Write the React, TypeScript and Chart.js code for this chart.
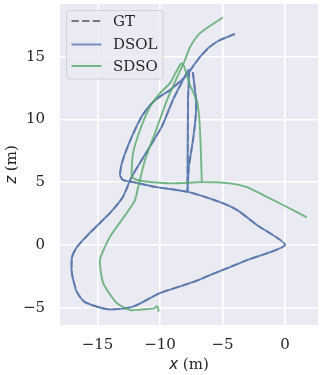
import React, { useEffect, useRef } from "react";
import { Chart, registerables } from "chart.js";

Chart.register(...registerables);

// ---- data (metres) ----
const gtX = [-4.0, -5.2, -6.0, -6.8, -7.36, -7.86, -8.4, -9.2, -10.0, -10.8, -11.46, -12.26, -12.96, -13.2, -12.96, -12.26, -10.4, -7.76, -5.2, -3.84, -2.24, 0, -3.0, -6.0, -7.36, -10.0, -11.84, -12.64, -14.24, -16.0, -16.64, -17.04, -17.04, -16.64, -15.6, -14.0, -12.96, -12.26, -10.96, -9.86, -8.96, -8.24, -7.68, -7.76, -7.76, -7.8, -7.68, -7.36, -7.12, -7.12, -7.36];
const gtY = [16.8, 16.32, 15.79, 14.99, 14.2, 13.54, 13.0, 12.34, 11.81, 11.15, 10.21, 8.62, 6.77, 5.57, 5.18, 5.04, 4.64, 4.24, 3.42, 2.79, 1.59, 0, -1.18, -2.39, -2.95, -3.82, -4.78, -5.02, -5.1, -4.54, -3.74, -2.23, -0.96, -0.16, 0.96, 2.55, 3.82, 5.44, 7.56, 9.42, 11.54, 12.98, 13.93, 11.54, 8.36, 4.3, 6.21, 8.36, 10.35, 11.54, 13.77];

const dsolX = [-4.02, -5.2, -6.02, -6.8, -7.38, -7.86, -8.42, -9.2, -10.02, -10.8, -11.48, -12.26, -12.98, -13.2, -12.96, -12.24, -10.4, -7.76, -5.2, -3.82, -2.22, 0, -3.0, -6.0, -7.38, -10.0, -11.86, -12.64, -14.26, -16.02, -16.66, -17.06, -17.04, -16.64, -15.62, -14.0, -12.98, -12.26, -10.98, -9.86, -8.98, -8.24, -7.7, -7.76, -7.78, -7.8, -7.7, -7.36, -7.14, -7.12, -7.38];
const dsolY = [16.82, 16.33, 15.8, 14.99, 14.22, 13.54, 13.02, 12.34, 11.83, 11.15, 10.22, 8.62, 6.78, 5.57, 5.17, 5.03, 4.63, 4.23, 3.41, 2.78, 1.58, 0, -1.19, -2.4, -2.96, -3.83, -4.79, -5.03, -5.11, -4.55, -3.74, -2.23, -0.95, -0.15, 0.97, 2.56, 3.83, 5.45, 7.57, 9.43, 11.55, 12.99, 13.94, 11.54, 8.36, 4.3, 6.22, 8.37, 10.36, 11.55, 13.78];

// SDSO drawn as two pieces (the estimate jumps between them)
const sdsoAX = [-10.1, -10.22, -10.5, -11.6, -12.4, -13.46, -14.54, -14.8, -14.0, -12.66, -12.0, -11.74, -11.2, -10.4, -9.44, -8.56, -8.0, -7.6, -6.8, -4.98];
const sdsoAY = [-5.32, -4.88, -5.05, -5.15, -5.18, -4.62, -3.03, -1.19, 0.66, 2.55, 3.58, 4.64, 6.77, 8.92, 11.54, 13.54, 14.73, 15.76, 16.88, 18.13];
const sdsoBX = [1.74, 0.16, -1.74, -3.04, -4.4, -6.64, -9.04, -10.8, -11.84, -12.24, -12.26, -12.16, -11.6, -10.8, -10.0, -9.2, -8.64, -8.3, -8.08, -7.6, -7.06, -6.88, -6.8, -6.72, -6.66];
const sdsoBY = [2.21, 3.03, 3.98, 4.62, 4.91, 5.02, 4.91, 5.02, 5.18, 5.44, 5.97, 7.32, 9.16, 11.01, 12.1, 12.9, 13.93, 14.47, 14.25, 12.74, 11.54, 10.35, 9.16, 7.17, 5.02];

const xTicks = [-15, -10, -5, 0];
const yTicks = [-5, 0, 5, 10, 15];
const xRange = [-18.0, 2.64];
const yRange = [-6.37, 19.2];
const legendLabels = ["GT", "DSOL", "SDSO"];

const BLUE = "rgba(76,114,176,0.85)";
const GREEN = "rgba(85,168,104,0.8)";
const GRAY_LINE = "rgba(90,90,90,0.55)";
const GRAY_LEGEND = "rgba(80,80,80,0.75)";
const SERIF = '"DejaVu Serif", serif';
const FS = 15;

const pts = (xs: number[], ys: number[]) => xs.map((x, i) => ({ x, y: ys[i] }));
const fmt = (v: number) => (v < 0 ? "\u2212" + Math.abs(v) : String(v));

const decorPlugin = {
  id: "decor",
  beforeDraw(chart: any) {
    const { ctx, chartArea: a } = chart;
    ctx.save();
    ctx.fillStyle = "#ffffff";
    ctx.fillRect(0, 0, chart.width, chart.height);
    ctx.fillStyle = "#eaeaf2";
    ctx.fillRect(a.left, a.top, a.right - a.left, a.bottom - a.top);
    ctx.restore();
  },
  afterDraw(chart: any) {
    const { ctx, chartArea: a } = chart;
    ctx.save();
    // axis titles
    const drawTitle = (v: string, cx: number, cy: number, rot: number) => {
      ctx.save();
      ctx.translate(cx, cy);
      ctx.rotate(rot);
      ctx.textBaseline = "middle";
      ctx.fillStyle = "#262626";
      ctx.font = `italic ${FS}px "DejaVu Sans", sans-serif`;
      const w1 = ctx.measureText(v).width;
      ctx.font = `${FS}px ${SERIF}`;
      const rest = " (m)";
      const w2 = ctx.measureText(rest).width;
      const x0 = -(w1 + w2) / 2;
      ctx.font = `italic ${FS}px "DejaVu Sans", sans-serif`;
      ctx.textAlign = "left";
      ctx.fillText(v, x0, 0);
      ctx.font = `${FS}px ${SERIF}`;
      ctx.fillText(rest, x0 + w1, 0);
      ctx.restore();
    };
    drawTitle("x", (a.left + a.right) / 2, 365, 0);
    drawTitle("z", 12, (a.top + a.bottom) / 2, -Math.PI / 2);

    // legend
    const bx = 66.5, by = 10.5, bw = 96.5, bh = 68.5, r = 3;
    ctx.beginPath();
    ctx.moveTo(bx + r, by);
    ctx.lineTo(bx + bw - r, by);
    ctx.quadraticCurveTo(bx + bw, by, bx + bw, by + r);
    ctx.lineTo(bx + bw, by + bh - r);
    ctx.quadraticCurveTo(bx + bw, by + bh, bx + bw - r, by + bh);
    ctx.lineTo(bx + r, by + bh);
    ctx.quadraticCurveTo(bx, by + bh, bx, by + bh - r);
    ctx.lineTo(bx, by + r);
    ctx.quadraticCurveTo(bx, by, bx + r, by);
    ctx.closePath();
    ctx.fillStyle = "rgba(234,234,242,0.8)";
    ctx.fill();
    ctx.strokeStyle = "rgba(204,204,204,0.8)";
    ctx.lineWidth = 1;
    ctx.stroke();

    const styles = [
      { color: GRAY_LEGEND, dash: [7.4, 3.2] },
      { color: "rgba(76,114,176,0.75)", dash: [] },
      { color: GREEN, dash: [] },
    ];
    const rowY = [by + 10.5, by + 34, by + 55.5];
    legendLabels.forEach((lab, i) => {
      ctx.beginPath();
      ctx.setLineDash(styles[i].dash);
      ctx.strokeStyle = styles[i].color;
      ctx.lineWidth = 2;
      ctx.moveTo(bx + 5, rowY[i]);
      ctx.lineTo(bx + 35, rowY[i]);
      ctx.stroke();
      ctx.setLineDash([]);
      ctx.fillStyle = "#262626";
      ctx.font = `${FS}px ${SERIF}`;
      ctx.textAlign = "left";
      ctx.textBaseline = "middle";
      ctx.fillText(lab, bx + 46.5, rowY[i] + 1);
    });
    ctx.restore();
  },
};

export default function App() {
  const ref = useRef<HTMLCanvasElement | null>(null);
  useEffect(() => {
    document.body.style.margin = "0";
    const canvas = ref.current!;
    const lineBase = { pointRadius: 0, borderWidth: 1.9, tension: 0.2, fill: false };
    const chart = new Chart(canvas, {
      type: "scatter",
      data: {
        datasets: [
          { ...lineBase, label: "SDSO", data: pts(sdsoAX, sdsoAY), showLine: true, borderColor: GREEN, order: 1 },
          { ...lineBase, label: "SDSO", data: pts(sdsoBX, sdsoBY), showLine: true, borderColor: GREEN, order: 1 },
          { ...lineBase, label: "DSOL", data: pts(dsolX, dsolY), showLine: true, borderColor: BLUE, order: 2 },
          { ...lineBase, label: "GT", data: pts(gtX, gtY), showLine: true, borderColor: GRAY_LINE, borderDash: [7.4, 3.2], order: 3 },
        ],
      },
      options: {
        animation: false,
        responsive: false,
        maintainAspectRatio: false,
        layout: { padding: { top: 4, right: 2, left: 0, bottom: 0 } },
        plugins: { legend: { display: false }, tooltip: { enabled: false } },
        scales: {
          x: {
            type: "linear",
            min: xRange[0],
            max: xRange[1],
            afterBuildTicks: (s: any) => { s.ticks = xTicks.map((v) => ({ value: v })); },
            afterFit: (s: any) => { s.height = 50; s.paddingLeft = 0; s.paddingRight = 0; },
            grid: { color: "#ffffff", lineWidth: 1.6, drawTicks: false },
            border: { display: false },
            ticks: { padding: 11, color: "#262626", font: { family: SERIF, size: FS }, callback: (v: any) => fmt(Number(v)), maxRotation: 0 },
          },
          y: {
            type: "linear",
            min: yRange[0],
            max: yRange[1],
            afterBuildTicks: (s: any) => { s.ticks = yTicks.map((v) => ({ value: v })); },
            afterFit: (s: any) => { s.width = 60; s.paddingTop = 0; s.paddingBottom = 0; },
            grid: { color: "#ffffff", lineWidth: 1.6, drawTicks: false },
            border: { display: false },
            ticks: { padding: 15, color: "#262626", font: { family: SERIF, size: FS }, callback: (v: any) => fmt(Number(v)) },
          },
        },
      },
      plugins: [decorPlugin],
    } as any);
    return () => chart.destroy();
  }, []);
  return <canvas ref={ref} width={320} height={375} style={{ display: "block", width: 320, height: 375 }} />;
}
